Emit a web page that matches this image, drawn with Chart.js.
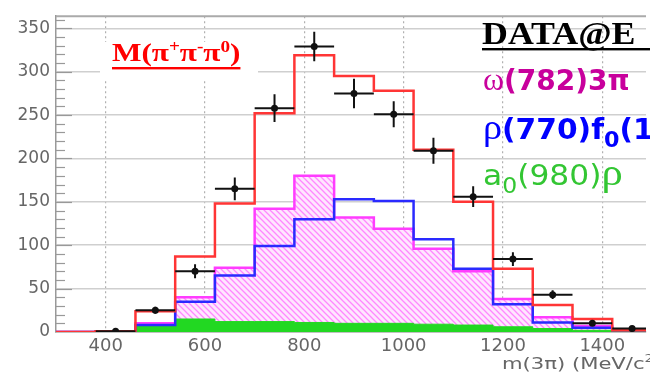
<!DOCTYPE html>
<html>
<head>
<meta charset="utf-8">
<script src="https://cdn.jsdelivr.net/npm/chart.js@4.4.1/dist/chart.umd.min.js"></script>
<style>
html, body { margin: 0; padding: 0; background: #fff; overflow: hidden; }
#wrap { width: 650px; height: 374px; }
</style>
</head>
<body>
<div id="wrap"><canvas id="myChart"></canvas></div>
<script>
// histogram bins (MeV/c^2), 80 MeV wide
var binEdges = [300, 380, 460, 540, 620, 700, 780, 860, 940, 1020, 1100, 1180, 1260, 1340, 1420, 1500];
var totalFit = [0, 1, 24, 87, 148, 252, 319, 295, 278, 210, 150, 73, 31, 15, 2];
var omegaFit = [0, 0, 10, 40, 74, 142, 180, 132, 119, 96, 70, 38, 17, 7, 2];
var rhoFit   = [0, 1, 8, 35, 65, 99, 130, 153, 151, 107, 73, 32, 11, 5, 2];
var a0Fit    = [0, 0, 8, 15, 12, 12, 11, 10, 10, 9, 8, 6, 4, 2, 1];

// data points with errors
var dataX   = [420, 500, 580, 660, 740, 820, 900, 980, 1060, 1140, 1220, 1300, 1380, 1460];
var dataY   = [1, 25, 70, 165, 258, 329, 275, 251, 209, 156, 84, 43, 10, 4];
var dataErr = [1, 4, 8, 13, 16, 17, 17, 15, 15, 12, 8, 5, 3, 2];
var halfBin = 40;

var xTicks = [400, 600, 800, 1000, 1200, 1400];
var yTicks = [0, 50, 100, 150, 200, 250, 300, 350];

function steps(vals) {
    var pts = vals.map(function(v, i) { return {x: binEdges[i], y: v}; });
    pts.push({x: binEdges[vals.length], y: vals[vals.length - 1]});
    return pts;
}

function hatchPattern() {
    var p = document.createElement('canvas');
    p.width = 6; p.height = 6;
    var g = p.getContext('2d');
    g.fillStyle = '#ffe6ff';
    g.fillRect(0, 0, 6, 6);
    g.strokeStyle = '#ff88ff';
    g.lineWidth = 1.3;
    g.beginPath();
    g.moveTo(-1, -1); g.lineTo(7, 7);
    g.moveTo(-1, 5); g.lineTo(1, 7);
    g.moveTo(5, -1); g.lineTo(7, 1);
    g.stroke();
    return g.createPattern(p, 'repeat');
}

function drawRuns(c, x, y, runs, sx) {
    c.save();
    c.translate(x, y);
    c.scale(sx, 1);
    var cx = 0;
    runs.forEach(function(r) {
        c.font = r.f;
        c.fillStyle = r.c;
        c.fillText(r.t, cx, r.dy || 0);
        cx += c.measureText(r.t).width;
    });
    c.restore();
    return cx * sx;
}

var extras = {
    id: 'extras',
    afterDatasetsDraw: function(chart) {
        var c = chart.ctx, xs = chart.scales.x, ys = chart.scales.y;
        var a = chart.chartArea;
        c.save();
        c.beginPath();
        c.rect(a.left, a.top, a.right - a.left, a.bottom - a.top);
        c.clip();
        c.strokeStyle = '#111';
        c.lineWidth = 2;
        for (var i = 0; i < dataX.length; i++) {
            var px = xs.getPixelForValue(dataX[i]);
            var py = ys.getPixelForValue(dataY[i]);
            c.beginPath();
            c.moveTo(xs.getPixelForValue(dataX[i] - halfBin), py);
            c.lineTo(xs.getPixelForValue(dataX[i] + halfBin), py);
            c.moveTo(px, ys.getPixelForValue(dataY[i] - dataErr[i]));
            c.lineTo(px, ys.getPixelForValue(dataY[i] + dataErr[i]));
            c.stroke();
        }
        c.restore();
    },
    afterDraw: function(chart) {
        var c = chart.ctx, ys = chart.scales.y;
        var a = chart.chartArea;
        c.save();
        // frame top
        c.strokeStyle = '#aaa';
        c.lineWidth = 2;
        c.beginPath();
        c.moveTo(a.left, a.top); c.lineTo(a.right, a.top);
        c.stroke();
        // minor y ticks
        c.strokeStyle = '#999';
        c.lineWidth = 1.2;
        for (var v = 10; v < ys.max; v += 10) {
            var py = Math.round(ys.getPixelForValue(v)) + 0.5;
            c.beginPath();
            c.moveTo(a.left, py);
            c.lineTo(a.left + (v % 50 === 0 ? 16 : 9), py);
            c.stroke();
        }

        // M(pi+ pi- pi0) label with white box
        c.fillStyle = '#fff';
        c.fillRect(100, 42, 158, 38);
        var serifB = 'bold 26px "Liberation Serif"';
        var supB = 'bold 16px "Liberation Serif"';
        var w = drawRuns(c, 112, 61, [
            {t: 'M(π', f: serifB, c: '#ff0000'},
            {t: '+', f: supB, c: '#ff0000', dy: -9},
            {t: 'π', f: serifB, c: '#ff0000'},
            {t: '-', f: supB, c: '#ff0000', dy: -9},
            {t: 'π', f: serifB, c: '#ff0000'},
            {t: '0', f: supB, c: '#ff0000', dy: -9},
            {t: ')', f: serifB, c: '#ff0000'}
        ], 1.2);
        c.fillStyle = '#ff0000';
        c.fillRect(112, 67, w, 2.4);

        // legend
        drawRuns(c, 482, 43.5, [
            {t: 'DATA@E', f: 'bold 32px "Liberation Serif"', c: '#000'}
        ], 1.12);
        c.fillStyle = '#000';
        c.fillRect(482, 48, 200, 2.4);

        drawRuns(c, 483, 90, [
            {t: 'ω', f: '32px "Liberation Serif"', c: '#c8009c'},
            {t: '(782)3π', f: 'bold 28px "DejaVu Sans"', c: '#c8009c'}
        ], 1.0);
        drawRuns(c, 483, 139, [
            {t: 'ρ', f: '36px "Liberation Serif"', c: '#0000ff'},
            {t: '(770)f', f: 'bold 28px "DejaVu Sans"', c: '#0000ff'},
            {t: '0', f: 'bold 21px "DejaVu Sans"', c: '#0000ff', dy: 8},
            {t: '(1', f: 'bold 28px "DejaVu Sans"', c: '#0000ff'}
        ], 1.06);
        drawRuns(c, 483, 185, [
            {t: 'a', f: '28px "DejaVu Sans"', c: '#33c633'},
            {t: '0', f: '21px "DejaVu Sans"', c: '#33c633', dy: 8},
            {t: '(980)', f: '28px "DejaVu Sans"', c: '#33c633'},
            {t: 'ρ', f: '38px "Liberation Serif"', c: '#33c633'}
        ], 1.12);

        // x axis title
        drawRuns(c, 502, 369, [
            {t: 'm(3π) (MeV/c', f: '16px "DejaVu Sans"', c: '#666'},
            {t: '2', f: '11px "DejaVu Sans"', c: '#666', dy: -7}
        ], 1.32);
        c.restore();
    }
};

var ctx = document.getElementById('myChart').getContext('2d');
var hatch = hatchPattern();

var myChart = new Chart(ctx, {
    type: 'line',
    data: {
        datasets: [
            {
                label: 'data',
                data: dataX.map(function(x, i) { return {x: x, y: dataY[i]}; }),
                showLine: false,
                pointRadius: 3.5,
                pointBackgroundColor: '#111',
                pointBorderColor: '#111',
                borderWidth: 0
            },
            {
                label: 'total',
                data: steps(totalFit),
                stepped: true,
                borderColor: '#ff3535',
                borderWidth: 2.5,
                pointRadius: 0,
                fill: false
            },
            {
                label: 'rho f0',
                data: steps(rhoFit),
                stepped: true,
                borderColor: '#2a2aff',
                borderWidth: 2.5,
                pointRadius: 0,
                fill: false
            },
            {
                label: 'a0 rho',
                data: steps(a0Fit),
                stepped: true,
                borderColor: '#22d822',
                backgroundColor: '#22d822',
                borderWidth: 1,
                pointRadius: 0,
                fill: 'origin'
            },
            {
                label: 'omega 3pi',
                data: steps(omegaFit),
                stepped: true,
                borderColor: '#ff3cff',
                backgroundColor: hatch,
                borderWidth: 2.5,
                pointRadius: 0,
                fill: 'origin'
            }
        ]
    },
    options: {
        responsive: true,
        maintainAspectRatio: false,
        animation: false,
        layout: { padding: { top: 10, right: 0, left: 0, bottom: 0 } },
        plugins: {
            legend: { display: false },
            tooltip: { enabled: false }
        },
        scales: {
            x: {
                type: 'linear',
                min: 300,
                max: 1488,
                afterBuildTicks: function(s) { s.ticks = xTicks.map(function(v) { return {value: v}; }); },
                afterFit: function(s) { s.height = 42; },
                grid: { color: '#b0b0b0', lineWidth: 1.2, drawTicks: false },
                border: { color: '#999', width: 1.5, dash: [2, 3] },
                ticks: {
                    padding: 4,
                    color: '#666',
                    font: { family: 'DejaVu Sans', size: 18 },
                    maxRotation: 0,
                    callback: function(v) { return String(v); }
                }
            },
            y: {
                min: 0,
                max: 364,
                afterBuildTicks: function(s) { s.ticks = yTicks.map(function(v) { return {value: v}; }); },
                afterFit: function(s) { s.width = 56; },
                grid: { color: '#cfcfcf', lineWidth: 1.5, drawTicks: false },
                border: { color: '#999', width: 1.5 },
                ticks: {
                    padding: 6,
                    color: '#666',
                    font: { family: 'DejaVu Sans', size: 17 },
                    callback: function(v) { return String(v); }
                }
            }
        }
    },
    plugins: [extras]
});
</script>
</body>
</html>
